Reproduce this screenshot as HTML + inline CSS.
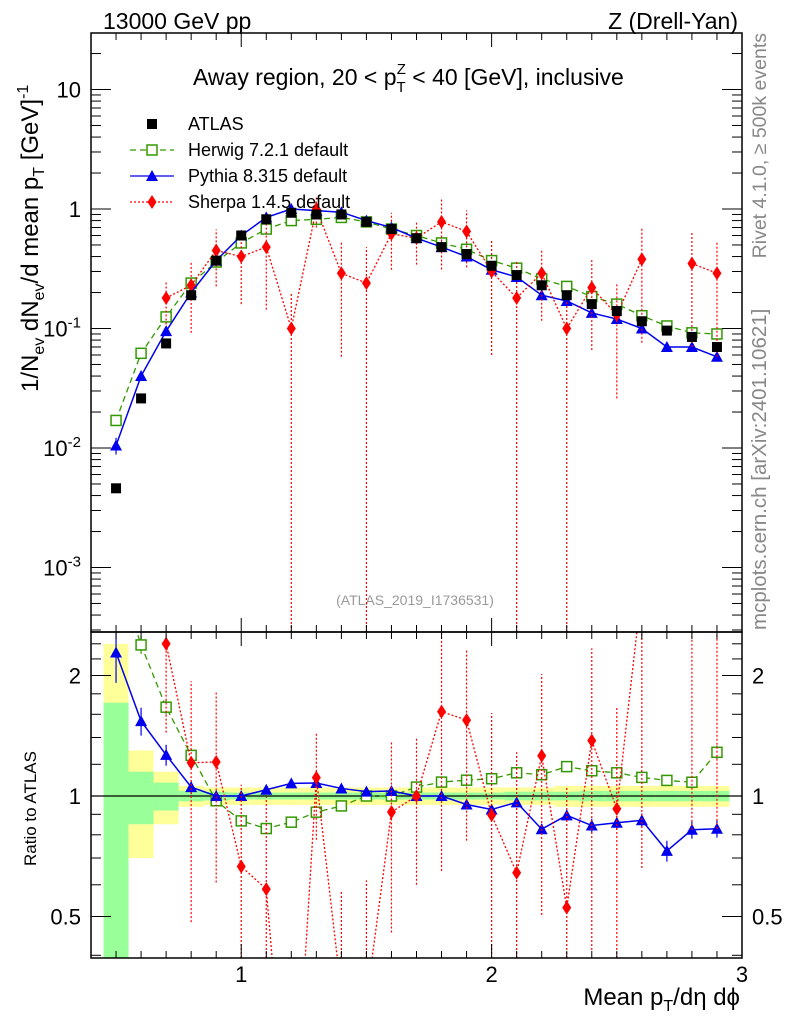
<!DOCTYPE html>
<html><head><meta charset="utf-8"><style>
html,body{margin:0;background:#fff;width:786px;height:1024px;overflow:hidden;}
svg{display:block;font-family:"Liberation Sans",sans-serif;}
</style></head><body>
<svg id="c" width="786" height="1024" viewBox="0 0 786 1024" xmlns="http://www.w3.org/2000/svg">
<text x="103" y="29" font-size="23">13000 GeV pp</text>
<text x="738" y="29" font-size="23" text-anchor="end">Z (Drell-Yan)</text>
<text x="193" y="85" font-size="23">Away region, 20 &lt; p<tspan font-size="15" dy="7">T</tspan><tspan font-size="15" dx="-9" dy="-18">Z</tspan><tspan dy="11"> &lt; 40 [GeV], inclusive</tspan></text>
<text x="415" y="605" font-size="14" fill="#999" text-anchor="middle">(ATLAS_2019_I1736531)</text>
<text transform="translate(766,33) rotate(-90)" font-size="19.5" fill="#888" text-anchor="end">Rivet 4.1.0, ≥ 500k events</text>
<text transform="translate(766,630) rotate(-90)" font-size="20.5" fill="#888">mcplots.cern.ch [arXiv:2401.10621]</text>
<text transform="translate(38,392) rotate(-90)" font-size="24">1/N<tspan font-size="16" dy="6">ev</tspan><tspan dy="-6"> dN</tspan><tspan font-size="16" dy="6">ev</tspan><tspan dy="-6">/d mean p</tspan><tspan font-size="16" dy="6">T</tspan><tspan dy="-6"> [GeV]</tspan><tspan font-size="16" dy="-10">-1</tspan></text>
<text transform="translate(36,866) rotate(-90)" font-size="17">Ratio to ATLAS</text>
<text x="740" y="1005" font-size="24" text-anchor="end">Mean p<tspan font-size="16" dy="6">T</tspan><tspan dy="-6">/dη dϕ</tspan></text>
<g id="g"></g>
</svg>
<script>
const xs=[0.5,0.6,0.7,0.8,0.9,1.0,1.1,1.2,1.3,1.4,1.5,1.6,1.7,1.8,1.9,2.0,2.1,2.2,2.3,2.4,2.5,2.6,2.7,2.8,2.9];
const atlas=[0.0046,0.026,0.075,0.19,0.37,0.6,0.82,0.93,0.9,0.9,0.78,0.68,0.57,0.48,0.42,0.335,0.28,0.23,0.19,0.16,0.14,0.115,0.096,0.085,0.07];
const herwig=[0.017,0.062,0.125,0.24,0.36,0.52,0.68,0.8,0.82,0.85,0.78,0.68,0.6,0.52,0.46,0.37,0.32,0.26,0.225,0.185,0.16,0.128,0.105,0.092,0.09];
const pythia=[0.0105,0.04,0.095,0.2,0.37,0.6,0.85,1.0,0.97,0.94,0.8,0.7,0.57,0.48,0.4,0.31,0.27,0.19,0.17,0.135,0.12,0.1,0.07,0.07,0.058];
const sherpa=[null,null,0.18,0.23,0.45,0.4,0.48,0.1,1.0,0.29,0.24,0.62,0.57,0.78,0.65,0.3,0.18,0.29,0.1,0.22,0.13,0.38,null,0.35,0.29];
const herwigErr=[0.1,0.05,0.04,0.04,0.03,0.03,0.02,0.02,0.02,0.02,0.02,0.02,0.02,0.02,0.02,0.02,0.02,0.02,0.02,0.02,0.02,0.03,0.03,0.03,0.04];
const pythiaErr=[0.16,0.08,0.06,0.04,0.03,0.02,0.02,0.02,0.02,0.02,0.02,0.02,0.02,0.02,0.02,0.02,0.02,0.03,0.03,0.04,0.04,0.04,0.06,0.05,0.05];
const sherpaErr=[null,null,0.4,0.6,0.5,0.6,0.7,1.0,0.3,0.8,1.0,0.5,0.4,0.6,0.5,0.8,1.0,0.6,1.0,0.7,0.8,0.8,null,0.8,0.8];
const statBand=[0.71,0.15,0.08,0.03,0.025,0.02,0.02,0.02,0.02,0.02,0.02,0.02,0.02,0.02,0.02,0.02,0.025,0.025,0.025,0.03,0.03,0.03,0.03,0.03,0.03];
const totBand=[1.4,0.3,0.15,0.06,0.05,0.05,0.05,0.05,0.05,0.05,0.05,0.05,0.05,0.05,0.05,0.05,0.05,0.05,0.06,0.06,0.06,0.06,0.06,0.06,0.06];
const yTicks=[10,1,0.1,0.01,0.001];
const yTickLabels=["10","1","10^-1","10^-2","10^-3"];
const rTicks=[2,1,0.5];
const rTickLabels=["2","1","0.5"];
const xTicks=[1,2,3];

const L=91,R=742,T=33,MB=632,RB=958;
const X=v=>L+(v-0.4)/(3.0-0.4)*(R-L);
const Y=v=>209-119.5*Math.log10(v);
const RY=v=>796-120.5*Math.log2(v);
const NS="http://www.w3.org/2000/svg";
const g=document.getElementById('g');
function el(t,a,p){const e=document.createElementNS(NS,t);for(const k in a)e.setAttribute(k,a[k]);(p||g).appendChild(e);return e;}
const defs=el('defs',{});
const c1=el('clipPath',{id:'cm'},defs);el('rect',{x:L,y:T,width:R-L,height:MB-T},c1);
const c2=el('clipPath',{id:'cr'},defs);el('rect',{x:L,y:MB,width:R-L,height:RB-MB},c2);
const gm=el('g',{'clip-path':'url(#cm)'});


const gr=el('g',{'clip-path':'url(#cr)'});


const clampY=(F,v,lo,hi)=>Math.min(Math.max(F(v),lo),hi);
xs.forEach((x,i)=>{
 const x0=X(x-0.05),x1=X(x+0.05);
 const ty=clampY(RY,1+totBand[i],MB,RB),by=clampY(RY,Math.max(1-totBand[i],0.01),MB,RB);
 const r1=el('rect',{x:x0,y:ty,width:x1-x0,height:by-ty,fill:'#ffff99'},gr);
 
 
 const ty2=clampY(RY,1+statBand[i],MB,RB),by2=clampY(RY,Math.max(1-statBand[i],0.01),MB,RB);
 const r2=el('rect',{x:x0,y:ty2,width:x1-x0,height:by2-ty2,fill:'#99ff99'},gr);
 
 
});
const one=el('line',{x1:L,x2:R,y1:RY(1),y2:RY(1),stroke:'#000','stroke-width':1.2},gr);


function marker(par,type,cx,cy,color){
 let m;
 if(type==='sq') m=el('rect',{x:cx-5,y:cy-5,width:10,height:10,fill:color},par);
 else if(type==='osq') m=el('rect',{x:cx-5,y:cy-5,width:10,height:10,fill:'#fff',stroke:color,'stroke-width':1.5},par);
 else if(type==='tri') m=el('polygon',{points:`${cx},${cy-6} ${cx-6},${cy+5} ${cx+6},${cy+5}`,fill:color},par);
 else m=el('polygon',{points:`${cx},${cy-7} ${cx-4.5},${cy} ${cx},${cy+7} ${cx+4.5},${cy}`,fill:color},par);
 return m;
}
const series=[
 {name:'herwig',vals:herwig,err:herwigErr,color:'#339900',dash:'6,4',type:'osq'},
 {name:'pythia',vals:pythia,err:pythiaErr,color:'#0000ee',dash:'',type:'tri'},
 {name:'sherpa',vals:sherpa,err:sherpaErr,color:'#ff0000',dash:'2,2',type:'dia'}
];
series.forEach(s=>{
 [[gm,Y,T,MB],[gr,RY,MB,RB]].forEach(([par,F,lo0,hi0],pi)=>{
  const val=i=>{const v=s.vals[i];if(v==null)return null;return pi===0?v:v/atlas[i];};
  let d='',pen=false;
  xs.forEach((x,i)=>{const v=val(i);if(v==null){pen=false;return;}d+=(pen?'L':'M')+X(x)+','+F(v);pen=true;});
  const p=el('path',{d:d,fill:'none',stroke:s.color,'stroke-width':s.name==='pythia'?1.5:1.3,'stroke-dasharray':s.dash},par);
  
  
  xs.forEach((x,i)=>{const v=val(i);if(v==null)return;
   const e=s.err[i]||0;const lo=Math.max(v*(1-e),1e-6),hi=v*(1+e);
   const eb=el('line',{x1:X(x),x2:X(x),y1:clampY(F,lo,lo0,hi0),y2:clampY(F,hi,lo0,hi0),stroke:s.color,'stroke-width':1.2,'stroke-dasharray':s.name==='sherpa'?'2,2':''},par);
   
   
   const m=marker(par,s.type,X(x),F(v),s.color);
   
   
  });
 });
});
xs.forEach((x,i)=>{const m=marker(gm,'sq',X(x),Y(atlas[i]),'#000');
 
 });
[[T,MB],[MB,RB]].forEach(([a,b],k)=>{const f=el('rect',{x:L,y:a,width:R-L,height:b-a,fill:'none',stroke:'#000','stroke-width':1.5});
 
 });
for(let v=0.4;v<=3.001;v+=0.1){const maj=Math.abs(v-Math.round(v))<1e-6;const len=maj?14:7;
 [T,MB].forEach(y=>el('line',{x1:X(v),x2:X(v),y1:y,y2:y+len,stroke:'#000'}));
 [MB,RB].forEach(y=>el('line',{x1:X(v),x2:X(v),y1:y,y2:y-len,stroke:'#000'}));}
xTicks.forEach(v=>{const t=el('text',{x:X(v),y:982,'font-size':22,'text-anchor':'middle'});t.textContent=v;
 
 });
for(let e=-4;e<=1;e++)for(let m=1;m<10;m++){const v=m*Math.pow(10,e);const y=Y(v);if(y<T||y>MB)continue;const len=m===1?20:10;
 el('line',{x1:L,x2:L+len,y1:y,y2:y,stroke:'#000'});el('line',{x1:R,x2:R-len,y1:y,y2:y,stroke:'#000'});}
yTicks.forEach((v,i)=>{const t=el('text',{x:81,y:Y(v)+8,'font-size':22,'text-anchor':'end'});
 const lb=yTickLabels[i];
 if(lb.includes('^')){const [b,ex]=lb.split('^');t.textContent=b;const ts=el('tspan',{'font-size':15,dy:-9},t);ts.textContent=ex;}
 else t.textContent=lb;
 
 });
[0.4,0.5,0.6,0.7,0.8,0.9,1,1.2,1.4,1.6,1.8,2,2.2,2.4].forEach(v=>{const y=RY(v);if(y<MB||y>RB)return;const maj=(v===0.5||v===1||v===2);const len=maj?20:10;
 el('line',{x1:L,x2:L+len,y1:y,y2:y,stroke:'#000'});el('line',{x1:R,x2:R-len,y1:y,y2:y,stroke:'#000'});});
rTicks.forEach((v,i)=>{[[81,'end'],[752,'start']].forEach(([x,a])=>{const t=el('text',{x:x,y:RY(v)+8,'font-size':22,'text-anchor':a});t.textContent=rTickLabels[i];
 
 });});
const leg=[['ATLAS','sq','#000',null],['Herwig 7.2.1 default','osq','#339900','6,4'],['Pythia 8.315 default','tri','#0000ee',''],['Sherpa 1.4.5 default','dia','#ff0000','2,2']];
leg.forEach((l,i)=>{const y=124+i*26;const lg=el('g',{});
 
 
 if(l[3]!==null)el('line',{x1:130,x2:174,y1:y,y2:y,stroke:l[2],'stroke-width':1.3,'stroke-dasharray':l[3]},lg);
 marker(lg,l[1],152,y,l[2]);
 const t=el('text',{x:188,y:y+6,'font-size':18},lg);t.textContent=l[0];});
</script>
</body></html>
